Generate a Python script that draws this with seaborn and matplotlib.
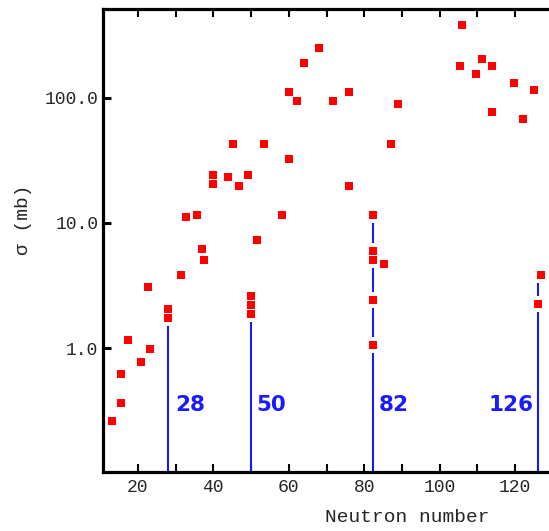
import numpy as np
import matplotlib
matplotlib.use("Agg")
import matplotlib.pyplot as plt
import pandas as pd
import seaborn as sns

# neutron number and capture cross section (mb)
neutrons = [13.1, 15.5, 15.5, 17.4, 20.9, 22.7, 23.2, 28.0, 28.0, 31.5,
            32.7, 35.6, 36.9, 37.4, 39.8, 39.8, 43.9, 45.1, 46.9, 49.1,
            50.0, 50.0, 50.0, 51.6, 53.3, 58.1, 60.0, 60.0, 62.3, 64.0,
            68.1, 71.7, 75.9, 75.9, 82.3, 82.3, 82.3, 82.3, 82.3, 85.3,
            87.1, 89.0, 105.5, 106.0, 109.7, 111.3, 113.8, 113.8, 119.7, 122.0,
            125.0, 126.2, 126.9]
sigma = [0.264, 0.366, 0.624, 1.158, 0.773, 3.10, 0.982, 2.06, 1.735, 3.82,
         11.1, 11.58, 6.23, 5.07, 24.2, 20.5, 23.2, 42.9, 19.7, 24.2,
         2.63, 2.23, 1.89, 7.36, 42.9, 11.58, 32.2, 110.4, 93.6, 188.2,
         250.6, 93.6, 110.4, 19.7, 11.58, 5.98, 5.07, 2.43, 1.06, 4.68,
         42.9, 89.6, 180.1, 378.3, 153.7, 203.6, 180.1, 76.5, 130.3, 67.6,
         115.2, 2.245, 3.82]

# closed shells
magic = [28, 50, 82, 126]
magic_x = [28.0, 50.0, 82.3, 126.1]
magic_top = [2.06, 2.63, 11.58, 3.82]
magic_label_x = [30.0, 51.5, 83.8, 125.0]

df = pd.DataFrame({"N": neutrons, "sigma": sigma})

sns.set_style("white")
plt.rcParams["font.family"] = ["Liberation Mono", "DejaVu Sans"]

fig = plt.figure(figsize=(5.49, 5.31), dpi=100)
ax = fig.add_axes([102.5 / 549, 1 - 472 / 531, 1 - 102.5 / 549, (472 - 9) / 531])

ymin, ymax = 0.103, 510
ax.set_yscale("log")
ax.set_xlim(10.6, 129.0)
ax.set_ylim(ymin, ymax)

ax.vlines(magic_x, ymin, magic_top, color="#1a1aff", lw=1.5, zorder=1)

# white halo first, then red squares on top
ax.scatter(df["N"], df["sigma"], marker="s", s=120, color="white", lw=0, zorder=2)
sns.scatterplot(data=df, x="N", y="sigma", marker="s", s=26, color="red",
                linewidth=0, zorder=3, ax=ax)

for lx, m in zip(magic_label_x, magic):
    ha = "right" if m == 126 else "left"
    ax.text(lx, 0.356, str(m), color="#1a1aff", fontsize=15.5, fontweight="bold",
            family="DejaVu Sans", ha=ha, va="center")

ax.set_xticks(np.arange(20, 130, 10))
ax.set_xticklabels(["20", "", "40", "", "60", "", "80", "", "100", "", "120"])
ax.set_yticks([1, 10, 100])
ax.set_yticklabels(["1.0", "10.0", "100.0"])
ax.yaxis.set_minor_locator(matplotlib.ticker.NullLocator())

ax.tick_params(axis="x", which="major", direction="in", length=5.5, width=1.5,
               top=True, bottom=True, labelsize=13, pad=5, color="black")
ax.tick_params(axis="y", which="major", direction="in", length=5.5, width=2.2,
               left=True, right=False, labelsize=13, pad=3, color="black")

for side in ["left", "bottom", "top"]:
    ax.spines[side].set_linewidth(2.3)
    ax.spines[side].set_color("black")
ax.spines["right"].set_visible(False)

ax.set_xlabel("Neutron number", fontsize=14, va="center")
ax.xaxis.set_label_coords((407.5 - 102.5) / (549 - 102.5), (472 - 518) / 463)
ax.set_ylabel("σ (mb)", fontsize=14, va="center")
ax.yaxis.set_label_coords((24 - 102.5) / (549 - 102.5), (472 - 220) / 463)

fig.savefig("out.png", dpi=100)
